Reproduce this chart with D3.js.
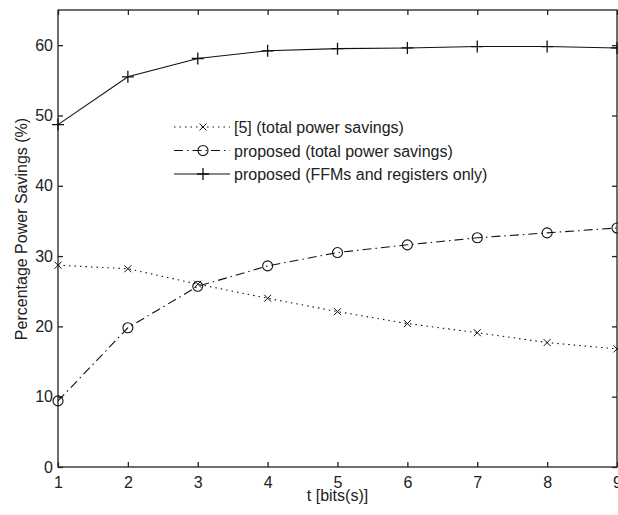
<!DOCTYPE html>
<html>
<head>
<meta charset="utf-8">
<script src="https://cdn.jsdelivr.net/npm/d3@7"></script>
<style>
  body { margin: 0; background: #fff; }
  text { font-family: "Liberation Sans", Arial, sans-serif; fill: #222; }
</style>
</head>
<body>
<script>
//chart data
var tBits = [1, 2, 3, 4, 5, 6, 7, 8, 9];
var ref5Total = [28.7, 28.2, 26.0, 24.0, 22.1, 20.4, 19.1, 17.7, 16.8];
var proposedTotal = [9.4, 19.8, 25.7, 28.6, 30.5, 31.6, 32.6, 33.3, 34.0];
var proposedFFM = [48.7, 55.5, 58.1, 59.2, 59.5, 59.6, 59.8, 59.8, 59.6];
var yTicks = [0, 10, 20, 30, 40, 50, 60];
var legendLabels = ["[5] (total power savings)", "proposed (total power savings)", "proposed (FFMs and registers only)"];

//frame
var width = 618, height = 515;
var plotL = 58, plotR = 617, plotT = 10, plotB = 467;

var svg = d3.select("body")
  .append("svg")
  .attr("width", width)
  .attr("height", height);

var x = d3.scaleLinear().domain([1, 9]).range([plotL, plotR]);
var y = d3.scaleLinear().domain([0, 65]).range([plotB, plotT]);

//box + ticks (matlab style, ticks inside on all four sides)
var axisColor = "#222";
svg.append("rect")
  .attr("x", plotL).attr("y", plotT)
  .attr("width", plotR - plotL).attr("height", plotB - plotT)
  .attr("fill", "none").attr("stroke", axisColor).attr("stroke-width", 1.3);

var xAxis = svg.append("g")
  .attr("transform", "translate(0," + plotB + ")")
  .call(d3.axisBottom(x).tickValues(tBits).tickSize(-5).tickPadding(10).tickFormat(d3.format("d")));
var xTop = svg.append("g")
  .attr("transform", "translate(0," + plotT + ")")
  .call(d3.axisTop(x).tickValues(tBits).tickSize(-5).tickFormat(""));
var yAxis = svg.append("g")
  .attr("transform", "translate(" + plotL + ",0)")
  .call(d3.axisLeft(y).tickValues(yTicks).tickSize(-5).tickPadding(5));
var yRight = svg.append("g")
  .attr("transform", "translate(" + plotR + ",0)")
  .call(d3.axisRight(y).tickValues(yTicks).tickSize(-5).tickFormat(""));

[xAxis, xTop, yAxis, yRight].forEach(function(g) {
  g.select(".domain").remove();
  g.selectAll("line").attr("stroke", axisColor).attr("stroke-width", 1.3);
  g.selectAll("text").style("font-size", "16px").style("font-family", "'Liberation Sans', Arial, sans-serif").attr("fill", "#222");
});

//axis labels
svg.append("text")
  .attr("x", (plotL + plotR) / 2)
  .attr("y", 501)
  .attr("text-anchor", "middle")
  .style("font-size", "16px")
  .text("t [bits(s)]");

svg.append("text")
  .attr("transform", "translate(27,229) rotate(-90)")
  .attr("text-anchor", "middle")
  .style("font-size", "16px")
  .text("Percentage Power Savings (%)");

//series
var series = [
  {values: ref5Total, dash: "1.5,4", marker: "x"},
  {values: proposedTotal, dash: "9,4,1.5,4", marker: "o"},
  {values: proposedFFM, dash: null, marker: "+"}
];

var line = d3.line()
  .x(function(d, i) { return x(tBits[i]); })
  .y(function(d) { return y(d); });

function drawMarker(g, type, cx, cy) {
  if (type === "x") {
    g.append("path")
      .attr("d", "M" + (cx - 3.5) + "," + (cy - 3.5) + "L" + (cx + 3.5) + "," + (cy + 3.5) +
        "M" + (cx - 3.5) + "," + (cy + 3.5) + "L" + (cx + 3.5) + "," + (cy - 3.5))
      .attr("stroke", "#111").attr("stroke-width", 1);
  } else if (type === "o") {
    g.append("circle")
      .attr("cx", cx).attr("cy", cy).attr("r", 5)
      .attr("fill", "none").attr("stroke", "#111").attr("stroke-width", 1.1);
  } else {
    g.append("path")
      .attr("d", "M" + (cx - 6) + "," + cy + "L" + (cx + 6) + "," + cy +
        "M" + cx + "," + (cy - 6) + "L" + cx + "," + (cy + 6))
      .attr("stroke", "#111").attr("stroke-width", 1.3);
  }
}

series.forEach(function(s) {
  svg.append("path")
    .datum(s.values)
    .attr("d", line)
    .attr("fill", "none")
    .attr("stroke", "#111")
    .attr("stroke-width", 1.1)
    .attr("stroke-dasharray", s.dash);
  var g = svg.append("g");
  s.values.forEach(function(v, i) {
    drawMarker(g, s.marker, x(tBits[i]), y(v));
  });
});

//legend
var legend = svg.append("g");
legendLabels.forEach(function(label, i) {
  var ly = 127 + i * 23.5;
  legend.append("line")
    .attr("x1", 174).attr("x2", 230)
    .attr("y1", ly).attr("y2", ly)
    .attr("stroke", "#111").attr("stroke-width", 1.1)
    .attr("stroke-dasharray", series[i].dash);
  drawMarker(legend, series[i].marker, 203, ly);
  legend.append("text")
    .attr("x", 234).attr("y", ly + 6)
    .style("font-size", "16px")
    .text(label);
});
</script>
</body>
</html>
